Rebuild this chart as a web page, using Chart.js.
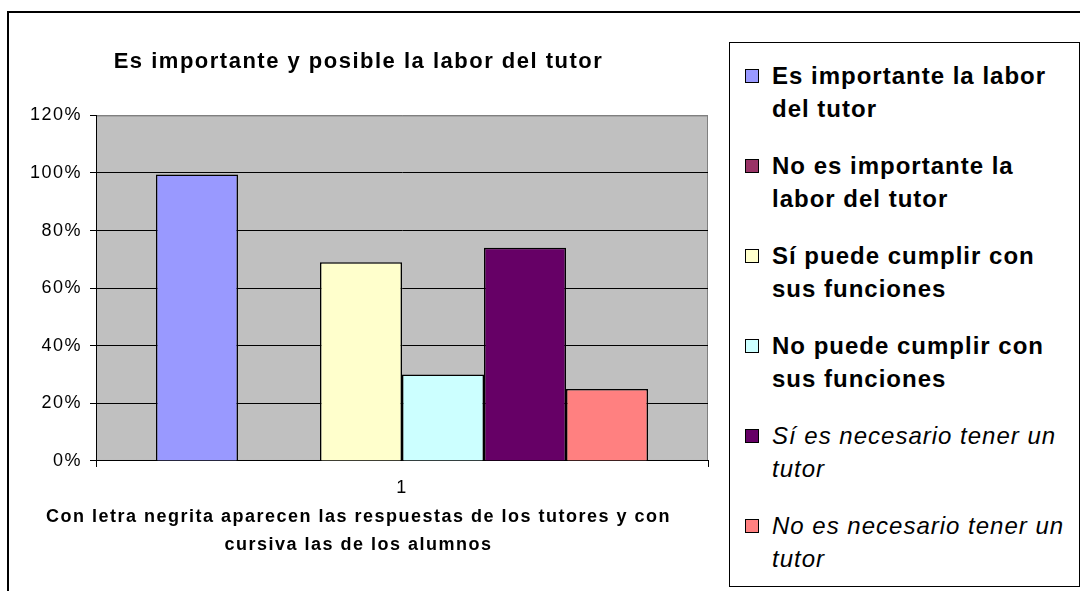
<!DOCTYPE html>
<html lang="es">
  <head>
    <meta charset="UTF-8" />
    <title>Es importante y posible la labor del tutor</title>
    <script src="https://cdn.jsdelivr.net/npm/chart.js@4"></script>
    <style>
      body {
        margin: 0;
        width: 1080px;
        height: 591px;
        overflow: hidden;
        background: #fff;
        font-family: "Liberation Sans", Arial, sans-serif;
      }
      .frame {
        position: absolute;
        left: 7px;
        top: 11px;
        width: 1090px;
        height: 600px;
        border: 2px solid #000;
        box-sizing: border-box;
      }
      .chart-box {
        position: absolute;
        left: 9px;
        top: 13px;
        width: 719px;
        height: 578px;
      }
      .legend {
        position: absolute;
        left: 729px;
        top: 42px;
        width: 351px;
        height: 545px;
        border: 1px solid #000;
        box-sizing: border-box;
        padding: 16px 0 0 15px;
        background: #fff;
      }
      .legend-item {
        display: flex;
        align-items: flex-start;
        margin-bottom: 24px;
      }
      .legend-item .box {
        flex: none;
        width: 14px;
        height: 14px;
        border: 1px solid #000;
        box-sizing: border-box;
        margin-top: 10px;
        margin-right: 13px;
      }
      .legend-item .txt {
        width: 300px;
        font-size: 24px;
        line-height: 33px;
        letter-spacing: 1px;
        color: #000;
      }
      .legend-item .txt.tutor { font-weight: bold; }
      .legend-item .txt.alumno { font-style: italic; }
    </style>
  </head>
  <body>
    <div class="frame"></div>
    <div class="chart-box"><canvas id="tutorChart"></canvas></div>
    <div class="legend" id="legend"></div>
    <script>
      // data
      const categories = ["1"];
      const seriesNames = [
        "Es importante la labor del tutor",
        "No es importante la labor del tutor",
        "Sí puede cumplir con sus funciones",
        "No puede cumplir con sus funciones",
        "Sí es necesario tener un tutor",
        "No es necesario tener un tutor",
      ];
      const seriesValues = [99.5, 0, 69, 30, 74, 25];
      // who answered: tutores (bold) or alumnos (italic)
      const respondents = ["tutor", "tutor", "tutor", "tutor", "alumno", "alumno"];
      const yTicks = [0, 20, 40, 60, 80, 100, 120];

      const chartTitle = "Es importante y posible la labor del tutor";
      const xCaption = [
        "Con letra negrita aparecen las respuestas de los tutores y con",
        "cursiva las de los alumnos",
      ];

      const palette = ["#9999FF", "#993366", "#FFFFCC", "#CCFFFF", "#660066", "#FF8080"];

      const FONT = '"Liberation Sans", Arial, sans-serif';
      Chart.defaults.font.family = FONT;
      Chart.defaults.color = "#000";

      // grey plot area like the old spreadsheet charts
      const plotBackground = {
        id: "plotBackground",
        beforeDraw(chart) {
          const { ctx, chartArea: a } = chart;
          ctx.save();
          ctx.fillStyle = "#C0C0C0";
          ctx.fillRect(a.left, a.top, a.width, a.height);
          ctx.strokeStyle = "#808080";
          ctx.lineWidth = 1;
          ctx.strokeRect(a.left + 0.5, a.top + 0.5, a.width - 1, a.height - 1);
          ctx.restore();
        },
      };

      // the source text is drawn rather loose
      const textSpacing = {
        id: "textSpacing",
        beforeUpdate(chart) {
          chart.ctx.letterSpacing = "1.5px";
        },
        beforeDraw(chart) {
          chart.ctx.letterSpacing = "1.5px";
        },
      };

      const datasets = seriesNames.map((name, i) => ({
        label: name,
        data: [seriesValues[i]],
        backgroundColor: palette[i],
        borderColor: "#000",
        borderWidth: 1.5,
        barPercentage: 1,
        categoryPercentage: 0.804,
      }));

      const chart = new Chart(document.getElementById("tutorChart"), {
        type: "bar",
        data: { labels: categories, datasets: datasets },
        plugins: [plotBackground, textSpacing],
        options: {
          responsive: true,
          maintainAspectRatio: false,
          animation: false,
          layout: { padding: { left: 0, right: 20, top: 0, bottom: 0 } },
          plugins: {
            legend: { display: false },
            tooltip: { enabled: false },
            title: {
              display: true,
              text: chartTitle,
              color: "#000",
              font: { size: 22, weight: "bold" },
              padding: { top: 36, bottom: 40 },
            },
            subtitle: {
              display: true,
              position: "bottom",
              text: xCaption,
              color: "#000",
              font: { size: 18, weight: "bold", lineHeight: 1.556 },
              padding: { top: 2, bottom: 32 },
            },
          },
          scales: {
            x: {
              ticks: { color: "#000", font: { size: 18 }, padding: 10 },
              grid: {
                offset: true,
                drawOnChartArea: false,
                drawTicks: true,
                tickLength: 6,
                color: "#000",
              },
              border: { color: "#000", width: 1 },
              afterFit: (s) => {
                s.height = 40;
              },
            },
            y: {
              min: yTicks[0],
              max: yTicks[yTicks.length - 1],
              afterBuildTicks: (s) => {
                s.ticks = yTicks.map((v) => ({ value: v }));
              },
              ticks: {
                color: "#000",
                font: { size: 18 },
                padding: 8,
                callback: (v) => v + "%",
              },
              grid: {
                color: (c) => (c.tick && c.tick.value === 120 ? "#808080" : "#000"),
                tickColor: "#000",
                tickLength: 6,
                lineWidth: 1,
              },
              border: { color: "#000", width: 1 },
              afterFit: (s) => {
                s.width = 87;
              },
            },
          },
        },
      });

      // legend box, built from the same series
      const legendEl = document.getElementById("legend");
      chart.data.datasets.forEach((ds, i) => {
        const item = document.createElement("div");
        item.className = "legend-item";
        const box = document.createElement("span");
        box.className = "box";
        box.style.background = ds.backgroundColor;
        const txt = document.createElement("span");
        txt.className = "txt " + respondents[i];
        txt.textContent = ds.label;
        item.appendChild(box);
        item.appendChild(txt);
        legendEl.appendChild(item);
      });
    </script>
  </body>
</html>
